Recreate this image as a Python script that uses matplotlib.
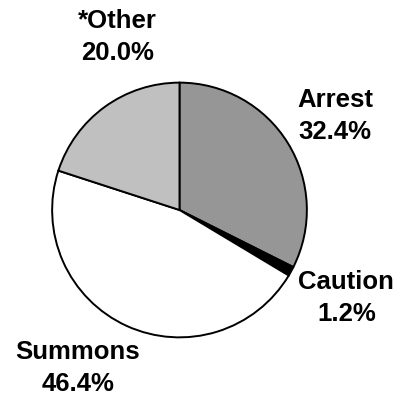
import matplotlib
matplotlib.use('Agg')
import matplotlib.pyplot as plt

labels = ['Arrest', 'Caution', 'Summons', '*Other']
values = [32.4, 1.2, 46.4, 20.0]
colors = ['#969696', '#000000', '#ffffff', '#c0c0c0']

# label anchor points in data units (pie radius = 1)
label_xy = [(1.22, 0.74), (1.31, -0.69), (-0.80, -1.24), (-0.49, 1.36)]

plt.rcParams['font.family'] = ['Liberation Sans', 'DejaVu Sans']

fig = plt.figure(figsize=(4.03, 4.01), dpi=100)
ax = fig.add_axes([51.5 / 403, 63 / 401, 256 / 403, 256 / 401])

ax.pie(values, colors=colors, startangle=90, counterclock=False, radius=1,
       wedgeprops={'edgecolor': 'black', 'linewidth': 1.4})
ax.set_xlim(-1.005, 1.005)
ax.set_ylim(-1.005, 1.005)
ax.set_aspect('auto')
ax.axis('off')

for name, val, (x, y) in zip(labels, values, label_xy):
    ax.text(x, y, name + '\n' + f'{val:.1f}%', ha='center', va='center',
            fontsize=18.5, fontweight='bold', linespacing=1.42, clip_on=False)

fig.savefig('out.png', dpi=100)
